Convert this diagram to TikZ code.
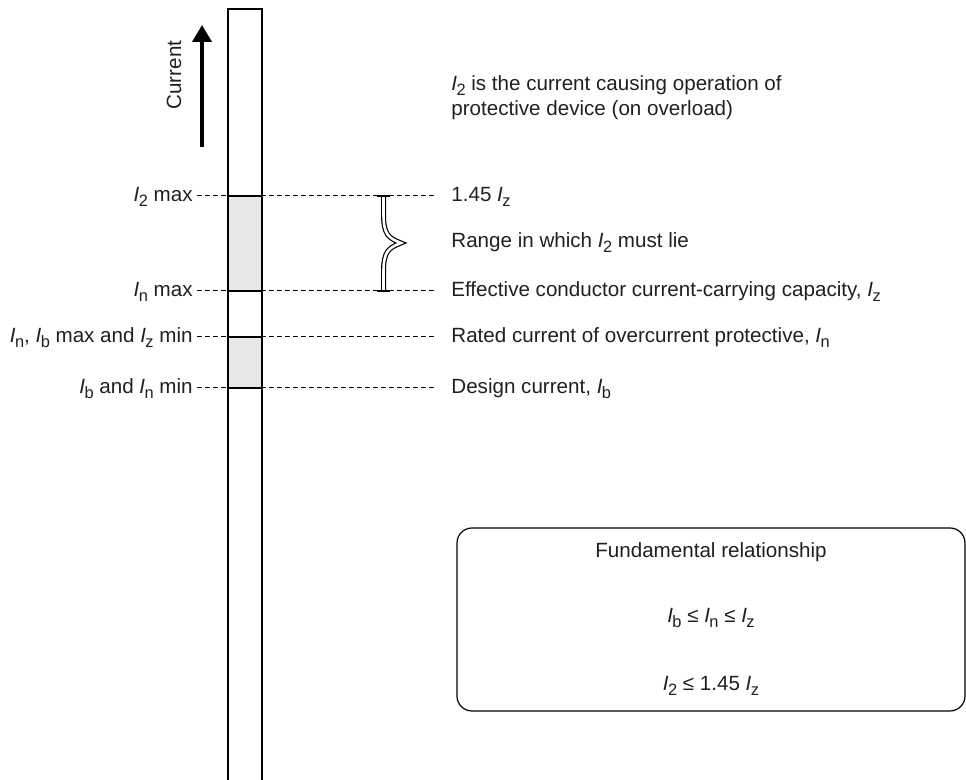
\documentclass[tikz,border=0pt]{standalone}
\usepackage{fontspec}
\setmainfont{Liberation Sans}
\usetikzlibrary{arrows.meta, positioning}
\definecolor{bandgrey}{HTML}{E6E7E8}
\definecolor{inkgrey}{HTML}{231F20}
\newcommand{\cur}[1]{\textit{I}\kern-0.3pt\raisebox{-2.8pt}{\fontsize{8.2pt}{8.2pt}\selectfont #1}}

\begin{document}
\begin{tikzpicture}[
            x=0.5pt, y=-0.5pt,
            every node/.style={font=\fontsize{10.3pt}{12.5pt}\selectfont, text=inkgrey},
            levelname/.style={anchor=east, inner xsep=2pt, inner ysep=0pt, text height=7.7pt, text depth=2.6pt},
            levelnote/.style={anchor=west, inner xsep=8pt, inner ysep=0pt, text height=7.7pt, text depth=2.6pt},
            relline/.style={inner sep=0pt, text height=7.7pt, text depth=2.6pt},
            guide/.style={dash pattern=on 2.5pt off 1.5pt, line width=0.5pt},
            column/.style={line width=0.7pt}
        ]
        \useasboundingbox (0,0) rectangle (966,780);

        % Grey bands in the column
        \fill[bandgrey] (228,196) rectangle (262,291);
        \fill[bandgrey] (228,337) rectangle (262,388);

        % Level labels, left
        \node[levelname] (l1) at (197,196) {\cur{2} max};
        \node[levelname] (l2) at (197,291) {\cur{n} max};
        \node[levelname] (l3) at (197,337) {\cur{n}, \cur{b} max and \cur{z} min};
        \node[levelname] (l4) at (197,388) {\cur{b} and \cur{n} min};

        % Level notes, right
        \node[levelnote] (r1) at (435,196) {1.45 \cur{z}};
        \node[levelnote] (range) at (435,242) {Range in which \cur{2} must lie};
        \node[levelnote] (r2) at (435,291) {Effective conductor current-carrying capacity, \cur{z}};
        \node[levelnote] (r3) at (435,337) {Rated current of overcurrent protective, \cur{n}};
        \node[levelnote] (r4) at (435,388) {Design current, \cur{b}};

        % Dashed levels
        \draw[guide] (l1.east) -- (r1.west);
        \draw[guide] (l2.east) -- (r2.west);
        \draw[guide] (l3.east) -- (r3.west);
        \draw[guide] (l4.east) -- (r4.west);
        \foreach \y in {196,291,337,388}
            \draw[line width=0.6pt] (228,\y) -- (262,\y);

        % Column
        \draw[column] (228,781) -- (228,9) -- (262,9) -- (262,781);

        % Current arrow
        \coordinate (tail) at (202,147);
        \coordinate (tip) at (202,25);
        \draw[line width=2pt, -{Triangle[width=9.5pt,length=8.5pt]}] (tail) -- (tip);
        \node[rotate=90] (axis) at (174,75) {Current};

        % Brace over the I2 range
        \coordinate (bracetop) at (383.5,196);
        \coordinate (bracebot) at (383.5,291);
        \draw[double, double distance=1.3pt, line width=0.6pt]
            (bracetop) -- (383.5,214) .. controls (383.5,234) and (388,238) .. (401,243)
            .. controls (388,248) and (383.5,252) .. (383.5,272) -- (bracebot);
        \draw[line width=0.6pt] ([xshift=-3.3pt]bracetop) -- ([xshift=3.3pt]bracetop);
        \draw[line width=0.6pt] ([xshift=-3.3pt]bracebot) -- ([xshift=3.3pt]bracebot);

        % Note on I2
        \node[anchor=north west, align=left, inner sep=0pt] (note) at (451,75)
            {\cur{2} is the current causing operation of\\ protective device (on overload)};

        % Fundamental relationship box
        \node[draw, rounded corners=7.5pt, line width=0.6pt, minimum width=254pt, minimum height=91.5pt] (rel) at (711,619.5) {};
        \node[relline] (head) at (711,552) {Fundamental relationship};
        \node[relline] (rule1) at (711,617) {\cur{b} ≤ \cur{n} ≤ \cur{z}};
        \node[relline] (rule2) at (711,685) {\cur{2} ≤ 1.45 \cur{z}};
        \end{tikzpicture}
\end{document}
